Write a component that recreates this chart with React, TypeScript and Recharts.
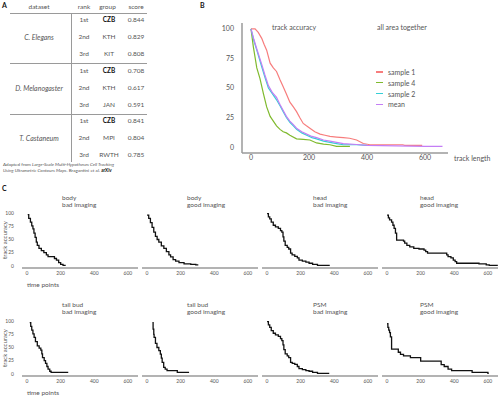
import { LineChart, Line, XAxis, YAxis } from 'recharts';
import type { ReactNode, CSSProperties } from 'react';

const font = 'Lato, "Open Sans", sans-serif';
const grey = '#555';

// A: ranking table
const datasets = ['C. Elegans', 'D. Melanogaster', 'T. Castaneum'];
const ranks = ['1st', '2nd', '3rd'];
const groups = [
  ['CZB', 'KTH', 'KIT'],
  ['CZB', 'KTH', 'JAN'],
  ['CZB', 'MPI', 'RWTH'],
];
const scores = [
  ['0.844', '0.829', '0.808'],
  ['0.708', '0.617', '0.591'],
  ['0.841', '0.804', '0.785'],
];

// B: track accuracy vs track length
const sample1X = [0, 14, 25, 37, 45, 54, 66, 77, 88, 100, 111, 122, 134, 146, 157, 168, 180, 191, 203, 220, 238, 255, 272, 295, 318, 340, 364, 387, 410, 450, 523, 530, 590];
const sample1Y = [100, 100, 97, 92, 87, 82, 71, 67, 64, 57, 51, 45, 38, 34, 30, 25, 20, 18, 16, 13, 11, 10, 9, 8.5, 8, 7.5, 6, 3, 2, 2, 2, 1.5, 1.5];
const sample4X = [0, 8, 20, 31, 43, 54, 66, 77, 88, 100, 111, 122, 134, 157, 180, 203, 226, 250, 272, 295, 341];
const sample4Y = [100, 85, 67, 58, 45, 34, 26, 22, 18, 15, 13, 12, 10, 7, 6.5, 6, 3.5, 2.5, 2, 0.6, 0.6];
const sample2X = [0, 10, 20, 37, 48, 60, 74, 88, 100, 111, 122, 134, 146, 157, 175, 192, 210, 226, 250, 272, 295, 318, 364, 400];
const sample2Y = [100, 90, 82, 68, 59, 50, 45, 40, 35, 30, 25, 21, 18, 15, 12, 10, 8, 7, 5, 4, 3, 2, 2, 1.5];
const meanX = [0, 10, 20, 37, 48, 60, 74, 88, 100, 111, 122, 134, 146, 157, 175, 192, 210, 226, 250, 272, 295, 318, 364, 400, 500, 600, 660];
const meanY = [100, 91, 83, 70, 61, 52, 46, 42, 36, 31, 26, 22, 19, 16, 13, 11, 9, 8, 6, 5, 4, 3, 2.2, 1.5, 1, 0.6, 0.6];

// C: per-region curves
const bodyBadX = [4, 10, 20, 28, 35, 41, 48, 55, 61, 71, 85, 100, 115, 125, 163, 175, 188, 200, 214, 230];
const bodyBadY = [97, 90, 83, 76, 70, 62, 54, 45, 39, 33, 29, 25, 21, 17.5, 14, 11, 6, 3, 1, 1];
const bodyGoodX = [0, 10, 20, 30, 40, 50, 60, 70, 85, 100, 115, 130, 140, 155, 170, 190, 220, 260, 290, 305];
const bodyGoodY = [96, 90, 82, 73, 64, 56, 50, 45, 38, 33, 27, 21, 17, 12, 9, 6, 4, 3, 2, 2];
const headBadX = [0, 8, 16, 25, 37, 50, 67, 80, 88, 95, 100, 108, 120, 129, 140, 149, 165, 180, 190, 210, 231, 250, 271, 300, 373];
const headBadY = [99, 93, 89, 83, 77, 74, 71, 67, 64, 55, 47, 39, 35, 32, 24, 21, 18, 15, 11, 9, 7, 5, 3, 1, 1];
const headGoodX = [0, 8, 15, 27, 35, 42, 50, 57, 98, 105, 118, 135, 159, 190, 220, 230, 241, 343, 355, 363, 380, 394, 405, 414, 547, 590, 608, 659];
const headGoodY = [96, 91, 87, 83, 77, 71, 62, 49, 47, 43, 39, 36, 33, 32, 30, 27, 24, 24, 21, 17.5, 15, 11, 8, 5, 4, 2, 1, 1];
const tailBadX = [16, 22, 28, 35, 42, 50, 61, 72, 82, 88, 92, 102, 110, 118, 125, 135, 143, 245];
const tailBadY = [97, 90, 83, 76, 69, 61, 53, 49, 45, 38, 31, 25, 20, 14, 9, 5, 3, 3];
const tailGoodX = [32, 36, 40, 42, 50, 59, 70, 79, 85, 90, 99, 108, 119, 170, 180, 250];
const tailGoodY = [97, 85, 75, 69, 58, 50, 44, 37.5, 30, 22, 12.5, 9, 6, 6, 3, 3];
const psmBadX = [0, 8, 16, 25, 37, 50, 67, 80, 88, 95, 100, 108, 120, 129, 140, 150, 165, 180, 190, 210, 231, 250, 271, 300, 370];
const psmBadY = [99, 93, 88, 82, 77, 74, 71, 67, 63, 55, 46, 38, 34, 31, 22, 20, 18, 14, 10, 8, 6, 5, 3, 1, 1];
const psmGoodX = [0, 5, 10, 15, 20, 27, 57, 67, 80, 98, 139, 180, 200, 302, 322, 340, 363, 384, 496, 506, 567, 600, 605];
const psmGoodY = [95, 88, 83, 78, 70, 47, 47, 41, 37, 34, 31, 31, 24, 24, 17.5, 14, 9, 6, 6, 3, 3, 1, 1];

const zip = (xs: number[], ys: number[]) => xs.map((x, i) => ({ x, y: ys[i] }));

const seriesB = [
  { name: 'sample 1', color: '#f77d7d', xs: sample1X, ys: sample1Y },
  { name: 'sample 4', color: '#7fba2e', xs: sample4X, ys: sample4Y },
  { name: 'sample 2', color: '#35cfd6', xs: sample2X, ys: sample2Y },
  { name: 'mean', color: '#c47ef5', xs: meanX, ys: meanY },
];

function T({ x, y, size = 7, center, children, style }: { x: number; y: number; size?: number; center?: boolean; children: ReactNode; style?: CSSProperties }) {
  return (
    <div
      style={{
        position: 'absolute',
        left: x,
        top: y,
        fontSize: size,
        lineHeight: 1,
        whiteSpace: 'nowrap',
        color: grey,
        fontFamily: font,
        transform: center ? 'translate(-50%, -50%)' : 'translateY(-50%)',
        ...style,
      }}
    >
      {children}
    </div>
  );
}

function HLine({ x, y, w }: { x: number; y: number; w: number }) {
  return <div style={{ position: 'absolute', left: x, top: y, width: w, height: 1, background: '#9a9a9a' }} />;
}

function Small({ xs, ys, plotLeft, plotTop, first }: { xs: number[]; ys: number[]; plotLeft: number; plotTop: number; first: boolean }) {
  const yw = first ? 22 : 0;
  const tick = { fontSize: 5, fill: grey, fontFamily: font };
  return (
    <div style={{ position: 'absolute', left: plotLeft - yw, top: plotTop }}>
      <LineChart width={116 + yw} height={67} data={zip(xs, ys)} margin={{ top: 0, right: 0, bottom: 0, left: 0 }}>
        <XAxis dataKey="x" type="number" domain={[-30, 660]} ticks={[0, 200, 400, 600]} interval={0} height={10} tickLine={false} tickSize={0} tickMargin={3} axisLine={{ stroke: '#9a9a9a', strokeWidth: 1.5 }} tick={tick} />
        <YAxis type="number" domain={[-4, 104]} ticks={[0, 25, 50, 75, 100]} interval={0} width={yw} hide={!first} axisLine={false} tickLine={false} tickSize={0} tickMargin={8} tick={tick} />
        <Line type="stepAfter" dataKey="y" stroke="#111" strokeWidth={1.3} dot={false} isAnimationActive={false} />
      </LineChart>
    </div>
  );
}

const colLeft = [22, 142, 262, 382];
const titleLeft = [62, 187, 313, 420];
const rowsC = [
  {
    top: 211,
    titleY: 198,
    panels: [
      { t: 'body', s: 'bad imaging', xs: bodyBadX, ys: bodyBadY },
      { t: 'body', s: 'good imaging', xs: bodyGoodX, ys: bodyGoodY },
      { t: 'head', s: 'bad imaging', xs: headBadX, ys: headBadY },
      { t: 'head', s: 'good imaging', xs: headGoodX, ys: headGoodY },
    ],
  },
  {
    top: 319,
    titleY: 305,
    panels: [
      { t: 'tail bud', s: 'bad imaging', xs: tailBadX, ys: tailBadY },
      { t: 'tail bud', s: 'good imaging', xs: tailGoodX, ys: tailGoodY },
      { t: 'PSM', s: 'bad imaging', xs: psmBadX, ys: psmBadY },
      { t: 'PSM', s: 'good imaging', xs: psmGoodX, ys: psmGoodY },
    ],
  },
];

export default function App() {
  const tickB = { fontSize: 7, fill: grey, fontFamily: font };
  return (
    <div style={{ position: 'absolute', left: 0, top: 0, width: 500, height: 397, background: '#fff', overflow: 'hidden', fontFamily: font }}>
      {/* A */}
      <T x={2} y={5} size={7} style={{ fontWeight: 700, color: '#111' }}>A</T>
      <T x={39} y={7} size={6.5} center>dataset</T>
      <T x={84} y={7} size={6.5} center>rank</T>
      <T x={107.5} y={7} size={6.5} center>group</T>
      <T x={136} y={7} size={6.5} center>score</T>
      <HLine x={10} y={13} w={137} />
      <HLine x={10} y={63} w={137} />
      <HLine x={10} y={114} w={137} />
      <div style={{ position: 'absolute', left: 71, top: 13, width: 1, height: 149, background: '#9a9a9a' }} />
      {datasets.map((d, i) => (
        <div key={d}>
          <T x={39} y={37 + i * 50.7} size={7} center style={{ fontStyle: 'italic' }}>{d}</T>
          {ranks.map((r, j) => {
            const y = 20 + i * 50.7 + j * 17;
            return (
              <div key={r}>
                <T x={84} y={y} size={6.5} center>{r}</T>
                <T x={109} y={y} size={6.5} center style={j === 0 ? { fontWeight: 700, color: '#111' } : undefined}>{groups[i][j]}</T>
                <T x={136} y={y} size={6.5} center>{scores[i][j]}</T>
              </div>
            );
          })}
        </div>
      ))}
      <T x={3} y={164} size={4.6}>Adapted from <i>Large-Scale Multi-Hypotheses Cell Tracking</i></T>
      <T x={3} y={169.5} size={4.6}><i>Using Ultrametric Contours Maps</i>. Bragantini et al. <b style={{ color: '#111' }}>arXiv</b></T>

      {/* B */}
      <T x={200} y={5} size={7} style={{ fontWeight: 700, color: '#111' }}>B</T>
      <div style={{ position: 'absolute', left: 200, top: 0 }}>
        <LineChart width={250} height={170} margin={{ top: 23, right: 2, bottom: 0, left: 0 }}>
          <XAxis dataKey="x" type="number" domain={[-31, 679]} ticks={[0, 200, 400, 600]} interval={0} height={17} tickLine={false} tickSize={0} tickMargin={2} axisLine={{ stroke: '#9a9a9a', strokeWidth: 1.5 }} tick={tickB} allowDuplicatedCategory={false} />
          <YAxis type="number" domain={[-5, 105]} ticks={[0, 25, 50, 75, 100]} interval={0} width={42} tickLine={false} tickSize={0} tickMargin={8} axisLine={{ stroke: '#9a9a9a', strokeWidth: 1.5 }} tick={tickB} />
          {seriesB.map((s) => (
            <Line key={s.name} data={zip(s.xs, s.ys)} type="linear" dataKey="y" stroke={s.color} strokeWidth={1.2} dot={false} isAnimationActive={false} />
          ))}
        </LineChart>
      </div>
      <T x={272} y={27} size={7}>track accuracy</T>
      <T x={377} y={27} size={7}>all area together</T>
      <T x={454} y={158} size={7}>track length</T>
      {seriesB.map((s, i) => (
        <div key={s.name}>
          <div style={{ position: 'absolute', left: 376, top: [72, 82.7, 93.7, 104.3][i] - 0.75, width: 7, height: 1.5, background: s.color }} />
          <T x={388} y={[72, 82.7, 93.7, 104.3][i]} size={7}>{s.name}</T>
        </div>
      ))}

      {/* C */}
      <T x={2} y={188} size={7} style={{ fontWeight: 700, color: '#111' }}>C</T>
      {rowsC.map((row, ri) => (
        <div key={ri}>
          {row.panels.map((p, ci) => (
            <div key={ci}>
              <T x={titleLeft[ci]} y={row.titleY} size={6.5}>{p.t}</T>
              <T x={titleLeft[ci]} y={row.titleY + 7.3} size={6.5}>{p.s}</T>
              <Small xs={p.xs} ys={p.ys} plotLeft={colLeft[ci]} plotTop={row.top} first={ci === 0} />
            </div>
          ))}
          <T x={5} y={row.top + 29} size={6} center style={{ transform: 'translate(-50%, -50%) rotate(-90deg)' }}>track accuracy</T>
          <T x={27} y={row.top + 74} size={6.5}>time points</T>
        </div>
      ))}
    </div>
  );
}
